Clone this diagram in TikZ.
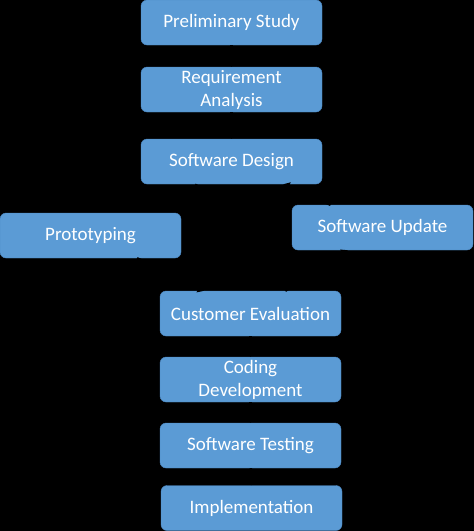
\documentclass[tikz,border=0pt]{standalone}
\usepackage{fontspec}
\setmainfont{Carlito}
\usepackage{tikz}
\usetikzlibrary{arrows.meta}

\definecolor{stepblue}{HTML}{5B9BD5}
\definecolor{stepedge}{HTML}{4A86C0}

\begin{document}
\begin{tikzpicture}[x=1pt, y=-1pt,
    stage/.style={draw=stepedge, thin, fill=stepblue, rounded corners=6pt,
        minimum width=181pt, minimum height=45pt, align=center,
        text=white, font=\fontsize{19}{23}\selectfont, inner sep=1pt},
    flow/.style={black, line width=2.5pt, -{Triangle[length=6pt, width=9pt]}}]

    % black page
    \fill[black] (0, 0) rectangle (474, 531);
    \useasboundingbox (0, 0) rectangle (474, 531);

    % Stages
    \node[stage] (study) at (231.5, 22.5) {Preliminary Study};
    \node[stage] (req) at (231.5, 89.5) {Requirement\\Analysis};
    \node[stage] (design) at (231.5, 161.5) {Software Design};
    \node[stage] (proto) at (90.5, 235.5) {Prototyping};
    \node[stage] (update) at (382.5, 227.5) {Software Update};
    \node[stage] (eval) at (250.5, 313.5) {Customer Evaluation};
    \node[stage] (coding) at (250.5, 379.5) {Coding\\Development};
    \node[stage] (testing) at (250.5, 445.5) {Software Testing};
    \node[stage] (impl) at (251.5, 508) {Implementation};

    % Connectors (black on black)
    \draw[flow] (study) -- (req);
    \draw[flow] (req) -- (design);
    \draw[flow] (design.south west) ++(56, 0) coordinate (d1) -- (proto.north east);
    \draw[flow] (proto) -- (eval);
    \draw[flow] (eval) -- (update);
    \draw[flow] (update) -- (design);
    \draw[flow] (eval) -- (coding);
    \draw[flow] (coding) -- (testing);
    \draw[flow] (testing) -- (impl);
\end{tikzpicture}
\end{document}
